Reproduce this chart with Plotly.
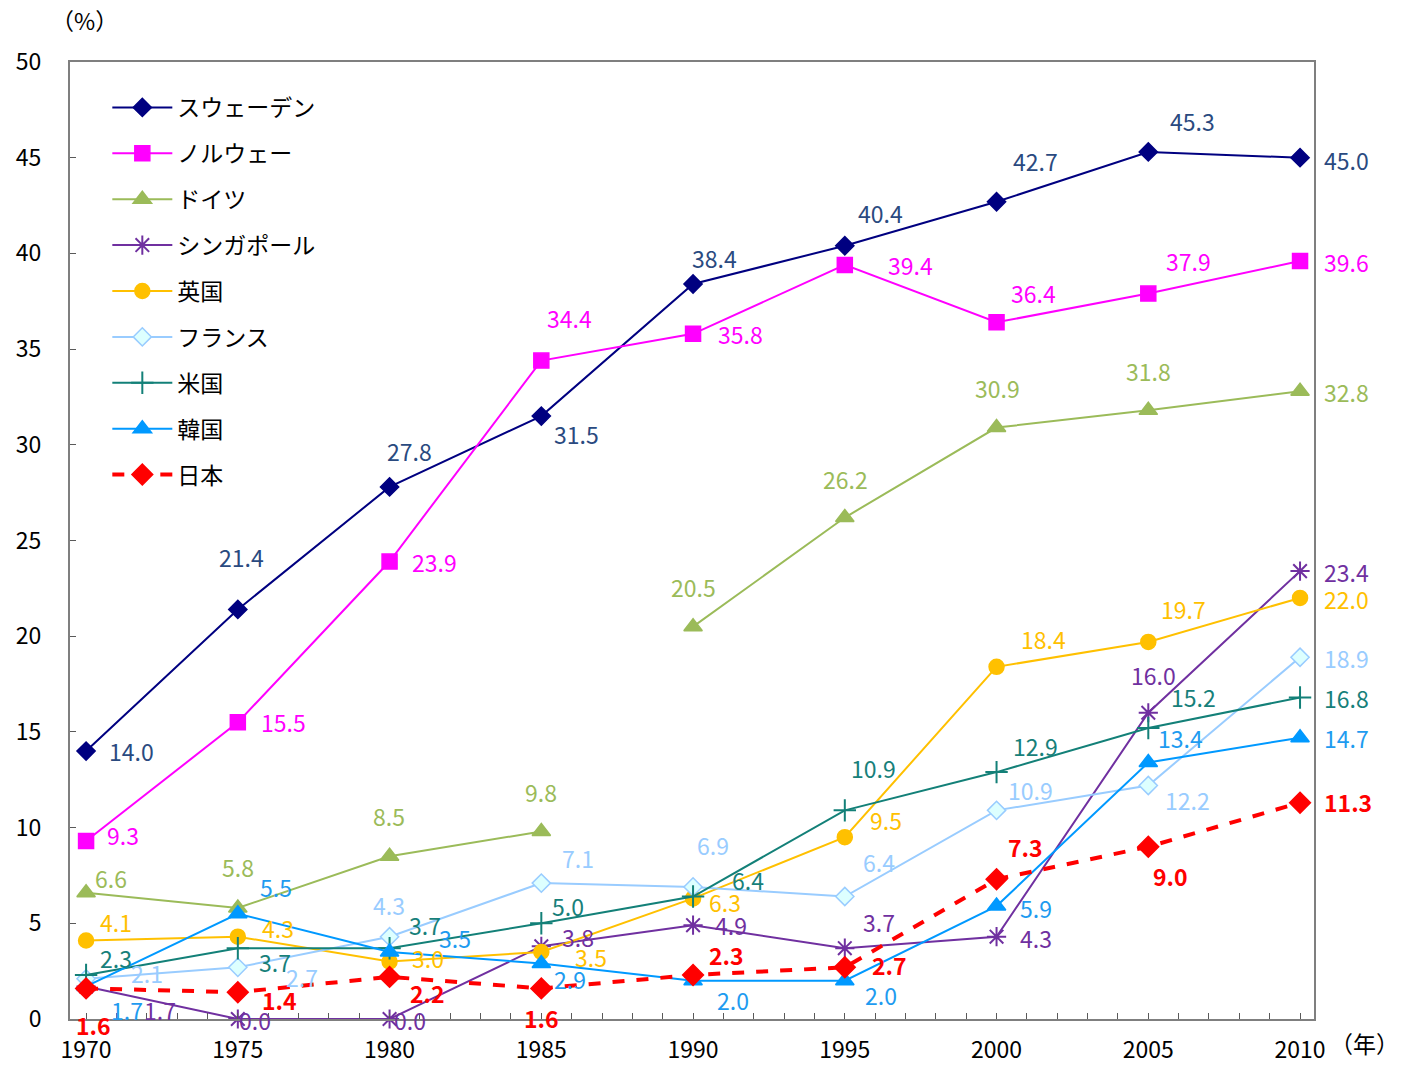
import plotly.graph_objects as go

years = [1970, 1975, 1980, 1985, 1990, 1995, 2000, 2005, 2010]
sweden = [14.0, 21.4, 27.8, 31.5, 38.4, 40.4, 42.7, 45.3, 45.0]
norway = [9.3, 15.5, 23.9, 34.4, 35.8, 39.4, 36.4, 37.9, 39.6]
germany_years_a = [1970, 1975, 1980, 1985]
germany_a = [6.6, 5.8, 8.5, 9.8]
germany_years_b = [1990, 1995, 2000, 2005, 2010]
germany_b = [20.5, 26.2, 30.9, 31.8, 32.8]
singapore = [1.7, 0.0, 0.0, 3.8, 4.9, 3.7, 4.3, 16.0, 23.4]
uk = [4.1, 4.3, 3.0, 3.5, 6.3, 9.5, 18.4, 19.7, 22.0]
france = [2.1, 2.7, 4.3, 7.1, 6.9, 6.4, 10.9, 12.2, 18.9]
usa = [2.3, 3.7, 3.7, 5.0, 6.4, 10.9, 12.9, 15.2, 16.8]
korea = [1.7, 5.5, 3.5, 2.9, 2.0, 2.0, 5.9, 13.4, 14.7]
japan = [1.6, 1.4, 2.2, 1.6, 2.3, 2.7, 7.3, 9.0, 11.3]

FONT = "Noto Sans CJK JP"

# label pixel offsets (dx right, dy down) — styling only
off_sweden = [(45, 0), (4, -52), (20, -36), (35, 18), (21, -26), (36, -33), (39, -41), (44, -31), (46, 2)]
off_norway = [(37, -6), (46, 0), (45, 0), (28, -43), (47, 0), (66, 0), (37, -29), (40, -33), (46, 1)]
off_germany_a = [(25, -15), (0, -41), (-1, -40), (0, -39)]
off_germany_b = [(0, -40), (1, -39), (1, -40), (0, -39), (46, 1)]
off_singapore = [(74, 24), (17, 1), (20, 1), (37, -9), (38, 0), (34, -26), (39, 1), (5, -38), (46, 1)]
off_uk = [(30, -19), (40, -9), (38, -4), (50, 5), (32, 4), (41, -17), (47, -28), (35, -33), (46, 1)]
off_france = [(61, -6), (64, 10), (-1, -32), (37, -25), (20, -42), (34, -35), (34, -20), (39, 15), (46, 1)]
off_usa = [(30, -17), (37, 14), (35, -23), (27, -17), (55, -17), (29, -42), (39, -26), (45, -31), (46, 1)]
off_korea = [(41, 24), (38, -27), (65, -14), (29, 16), (40, 19), (36, 14), (39, 2), (32, -25), (46, 0)]
off_japan = [(7, 37), (42, 8), (38, 16), (0, 30), (33, -20), (45, -2), (29, -32), (22, 29), (48, -1)]

series = [
    ("スウェーデン", years, sweden, "#000080", "#2A4A7F", "diamond", 14, "#000080", "#000080", "solid", 2, off_sweden, False, True, "se"),
    ("ノルウェー", years, norway, "#FF00FF", "#FF00FF", "square", 15, "#FF00FF", "#FF00FF", "solid", 2, off_norway, False, True, "no"),
    ("ドイツ", germany_years_a, germany_a, "#9BBB59", "#9BBB59", "triangle-up", 16, "#9BBB59", "#9BBB59", "solid", 2, off_germany_a, False, True, "de"),
    ("ドイツ", germany_years_b, germany_b, "#9BBB59", "#9BBB59", "triangle-up", 16, "#9BBB59", "#9BBB59", "solid", 2, off_germany_b, False, False, "de"),
    ("シンガポール", years, singapore, "#7030A0", "#7030A0", "asterisk-open", 16, "#7030A0", "#7030A0", "solid", 2, off_singapore, False, True, "sg"),
    ("英国", years, uk, "#FFC000", "#FFC000", "circle", 15, "#FFC000", "#FFC000", "solid", 2, off_uk, False, True, "uk"),
    ("フランス", years, france, "#99CCFF", "#99CCFF", "diamond", 14, "#DDFFFF", "#99CCFF", "solid", 2, off_france, False, True, "fr"),
    ("米国", years, usa, "#138078", "#17807A", "cross-thin-open", 16, "#138078", "#138078", "solid", 2, off_usa, False, True, "us"),
    ("韓国", years, korea, "#0099FF", "#1E9BF0", "triangle-up", 16, "#0099FF", "#0099FF", "solid", 2, off_korea, False, True, "kr"),
    ("日本", years, japan, "#FF0000", "#FF0000", "diamond", 16, "#FF0000", "#FF0000", "dash", 4, off_japan, True, True, "jp"),
]

fig = go.Figure()
annotations = []
for (name, xs, ys, lc, tc, sym, sz, fill, mline, dash, w, offs, bold, showleg, grp) in series:
    fig.add_trace(go.Scatter(
        x=xs, y=ys, mode="lines+markers", name=name, legendgroup=grp, showlegend=showleg,
        line=dict(color=lc, width=w, dash=dash),
        marker=dict(symbol=sym, size=sz, color=fill, line=dict(color=mline, width=1.5 if "open" not in sym else 2)),
        cliponaxis=False,
    ))
    for xv, yv, (dx, dy) in zip(xs, ys, offs):
        txt = f"{yv:.1f}"
        if bold:
            txt = f"<b>{txt}</b>"
        annotations.append(dict(
            x=xv, y=yv, xref="x", yref="y", text=txt, showarrow=False,
            xshift=dx, yshift=-dy, xanchor="center", yanchor="middle",
            font=dict(family=FONT, size=23, color=tc),
        ))

annotations.append(dict(text="（%）", xref="paper", yref="paper", x=0.0, y=1.0, yshift=42, xshift=14,
                        showarrow=False, font=dict(family=FONT, size=23, color="#000000"),
                        xanchor="center", yanchor="middle"))
annotations.append(dict(text="（年）", xref="paper", yref="paper", x=1.0, y=0.0, xshift=50, yshift=-24,
                        showarrow=False, font=dict(family=FONT, size=23, color="#000000"),
                        xanchor="center", yanchor="middle"))

fig.update_layout(
    annotations=annotations,
    width=1409, height=1068,
    margin=dict(l=70, r=95, t=62, b=49, autoexpand=False),
    paper_bgcolor="white", plot_bgcolor="white",
    font=dict(family=FONT, size=23, color="#000000"),
    legend=dict(x=0.03, y=0.975, xanchor="left", yanchor="top", bgcolor="rgba(0,0,0,0)",
                font=dict(family=FONT, size=23, color="#000000"), tracegroupgap=13, itemwidth=60,
                traceorder="grouped"),
    xaxis=dict(range=[1969.47, 2010.46], tickvals=list(range(1970, 2011, 5)), ticks="inside", ticklen=6,
               tickcolor="#595959", showline=True, linecolor="#7F7F7F", linewidth=2, mirror=True,
               showgrid=False, zeroline=False, tickfont=dict(family=FONT, size=23, color="#000000"),
               ticklabelstandoff=9, automargin=False,
               minor=dict(dtick=1, tick0=1970, ticks="inside", ticklen=6, tickcolor="#595959", showgrid=False)),
    yaxis=dict(range=[0, 50], dtick=5, ticks="inside", ticklen=6, tickcolor="#595959",
               showline=True, linecolor="#7F7F7F", linewidth=2, mirror=True, showgrid=False, zeroline=False,
               tickfont=dict(family=FONT, size=23, color="#000000"), ticklabelstandoff=22, automargin=False),
)

fig.write_html("out.html", post_script="document.body.style.margin='0';",
               config={"displayModeBar": False})
